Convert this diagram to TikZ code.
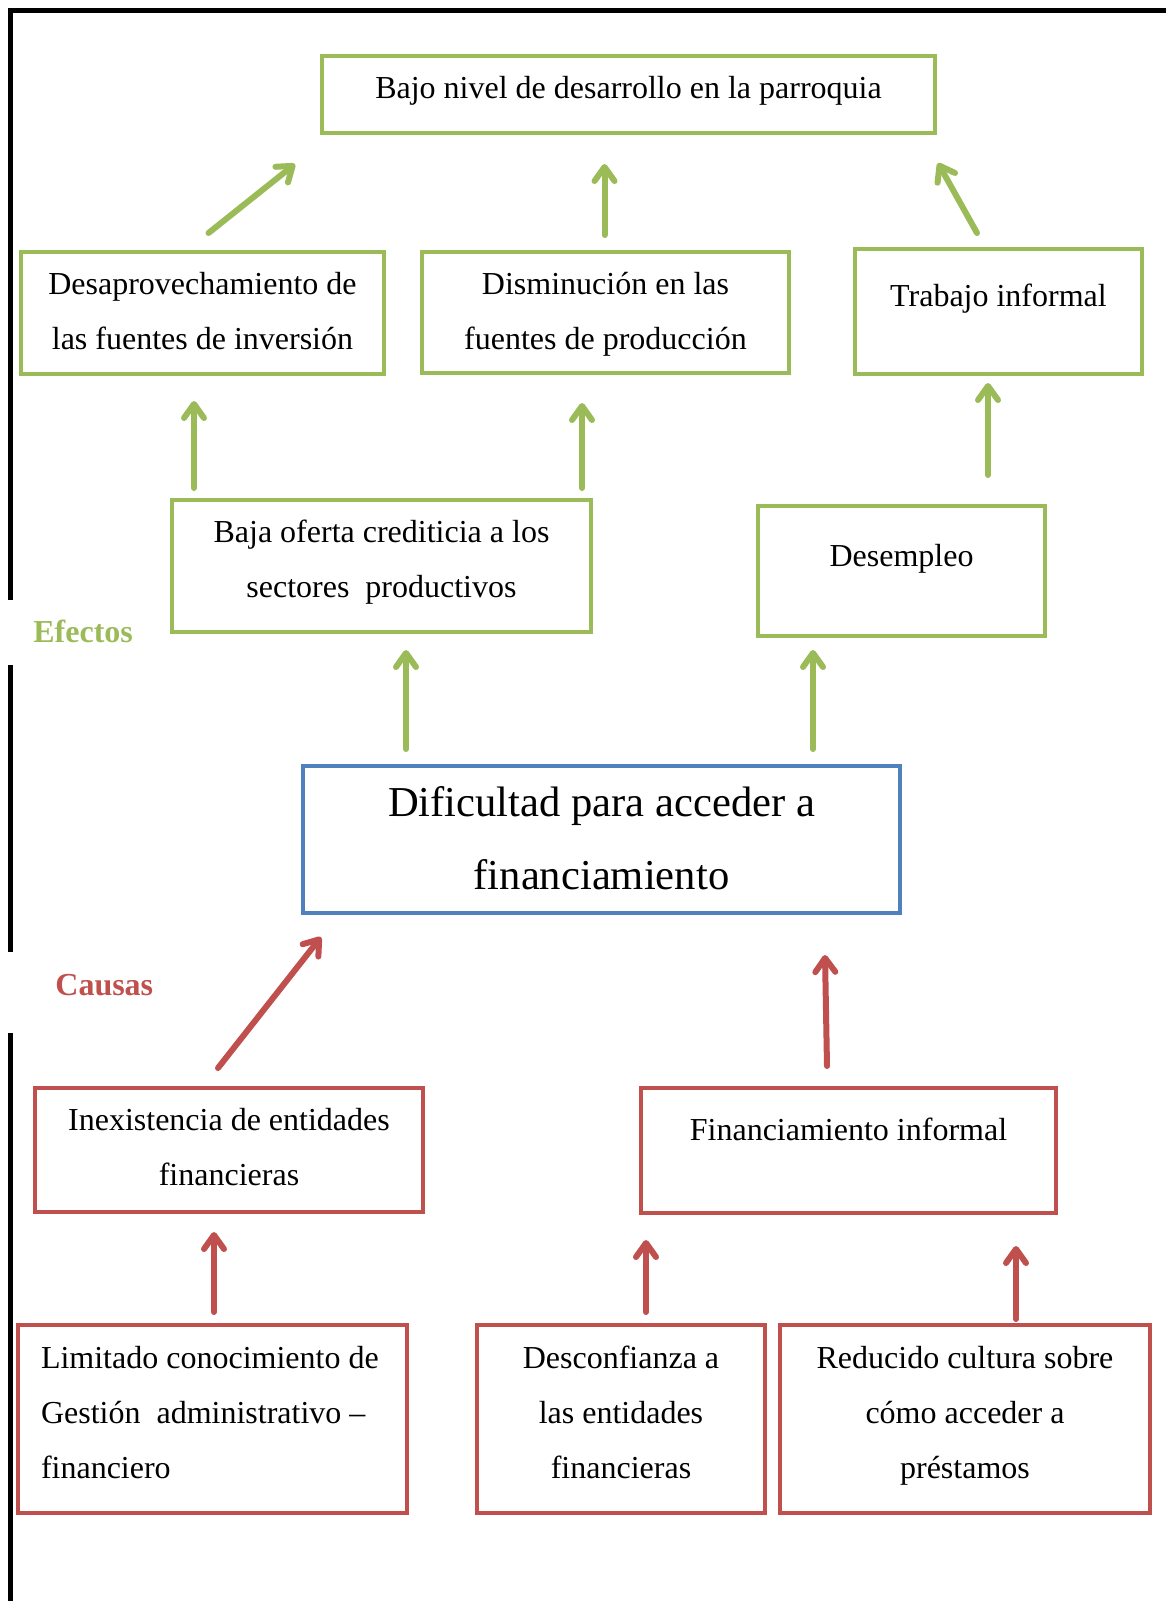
\documentclass[tikz,border=0pt]{standalone}
\usepackage{fontspec}
\setmainfont{Liberation Serif}
\usetikzlibrary{calc,arrows.meta}
\definecolor{efgreen}{RGB}{155,187,89}
\definecolor{cared}{RGB}{192,80,77}
\definecolor{pblue}{RGB}{79,129,189}
\tikzset{>={Straight Barb[length=7pt,width=10pt,round]}}
\tikzset{
  box/.style={draw,line width=2pt,inner sep=0pt,outer sep=0pt,anchor=north west,
    align=flush center,font=\fontsize{16}{27.5}\selectfont},
  efbox/.style={box,draw=efgreen},
  cabox/.style={box,draw=cared},
  efarrow/.style={->,draw=efgreen,line width=3pt,line cap=round},
  caarrow/.style={->,draw=cared,line width=3pt,line cap=round},
  tag/.style={anchor=base west,inner sep=0pt,font=\fontsize{16}{19}\selectfont\bfseries}
}

\begin{document}
\begin{tikzpicture}[x=0.5pt,y=-0.5pt]
\useasboundingbox (0,0) rectangle (1166,1601);
\draw[line width=2.5pt] (10,600) -- (10,10) -- (1166,10);
\draw[line width=2.5pt] (10,665) -- (10,952);
\draw[line width=2.5pt] (10,1033) -- (10,1601);

\node[efbox,text width=306.5pt,text height=21pt,text depth=17.5pt] (bajo) at (322,56)
  {Bajo nivel de desarrollo en la parroquia};
\node[efbox,text width=181.5pt,text height=21pt,text depth=40pt] (desap) at (21,252)
  {Desaprovechamiento de\\las fuentes de inversión};
\node[efbox,text width=183.5pt,text height=21pt,text depth=39.5pt] (dismin) at (422,252)
  {Disminución en las\\fuentes de producción};
\node[efbox,text width=143.5pt,text height=28.5pt,text depth=34pt] (trabajo) at (855,249)
  {Trabajo informal};
\node[efbox,text width=209.5pt,text height=21pt,text depth=45pt] (baja) at (172,500)
  {Baja oferta crediticia a los\\sectores\ \ productivos};
\node[efbox,text width=143.5pt,text height=30pt,text depth=35pt] (desemp) at (758,506)
  {Desempleo};
\node[box,draw=pblue,text width=298.5pt,text height=25pt,text depth=48.5pt,
  font=\fontsize{21.3}{36.5}\selectfont] (dific) at (303,766)
  {Dificultad para acceder a\\financiamiento};
\node[cabox,text width=194pt,text height=21pt,text depth=41pt] (inexist) at (35,1088)
  {Inexistencia de entidades\\financieras};
\node[cabox,text width=207.5pt,text height=26pt,text depth=36.5pt] (financ) at (641,1088)
  {Financiamiento informal};
\node[cabox,align=flush left,inner xsep=11.5pt,text width=171.5pt,text height=21.5pt,text depth=72.5pt] (limit) at (18,1325)
  {\mbox{Limitado conocimiento de}\\\mbox{Gestión\ \ administrativo –}\\financiero};
\node[cabox,text width=144pt,text height=21.5pt,text depth=72.5pt] (desconf) at (477,1325)
  {Desconfianza a\\las entidades\\financieras};
\node[cabox,text width=185pt,text height=21.5pt,text depth=72.5pt] (reduc) at (780,1325)
  {Reducido cultura sobre\\cómo acceder a\\préstamos};

\node[tag,text=efgreen] (efectos) at (33,642) {Efectos};
\node[tag,text=cared] (causas) at (55,995) {Causas};

\draw[efarrow] ($(desap.north)+(6,-19)$) -- ($(bajo.south west)+(-27,31)$);
\draw[efarrow] ($(dismin.north)+(-1,-17)$) -- ($(bajo.south)+(-24,31)$);
\draw[efarrow] ($(trabajo.north)+(-21.5,-16)$) -- ($(bajo.south east)+(3,30)$);
\draw[efarrow] ($(baja.north west)+(22,-12)$) -- ($(desap.south west)+(173,27)$);
\draw[efarrow] ($(baja.north east)+(-9,-12)$) -- ($(dismin.south west)+(160,30)$);
\draw[efarrow] ($(desemp.north east)+(-57,-31)$) -- ($(trabajo.south west)+(133,9)$);
\draw[efarrow] ($(dific.north west)+(103,-17)$) -- ($(baja.south west)+(234,18)$);
\draw[efarrow] ($(dific.north west)+(510,-17)$) -- ($(desemp.south west)+(55,14)$);

\draw[caarrow] ($(inexist.north west)+(183,-20)$) -- ($(dific.south west)+(18,24)$);
\draw[caarrow] ($(financ.north west)+(186,-22)$) -- ($(dific.south west)+(522,42)$);
\draw[caarrow] ($(limit.north west)+(196,-13)$) -- ($(inexist.south west)+(179,20)$);
\draw[caarrow] ($(desconf.north west)+(169,-13)$) -- ($(financ.south west)+(5,27)$);
\draw[caarrow] ($(reduc.north west)+(236,-6)$) -- ($(financ.south west)+(375,33)$);
\end{tikzpicture}
\end{document}
